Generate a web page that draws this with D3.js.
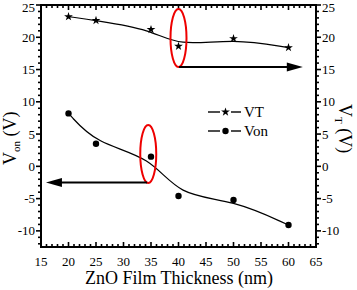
<!DOCTYPE html>
<html><head><meta charset="utf-8">
<script src="https://cdn.jsdelivr.net/npm/d3@7"></script>
<style>body{margin:0;background:#fff;font-family:'Liberation Serif',serif}svg{display:block}</style>
</head><body><svg id="c" width="357" height="290"></svg>
<script>
const thickness = [20, 25, 35, 40, 50, 60];
const vt = [23.2, 22.6, 21.2, 18.6, 19.8, 18.4];
const von = [8.2, 3.5, 1.5, -4.6, -5.2, -9.1];
const xTicks = [15, 20, 25, 30, 35, 40, 45, 50, 55, 60, 65];
const yTicks = [-10, -5, 0, 5, 10, 15, 20, 25];
const legendLabels = ["VT", "Von"];
// annotations in data coordinates
const ellipses = [{cx: 40, cy: 19.9}, {cx: 34.5, cy: 1.9}];
const arrows = [{x1: 40.1, x2: 62.6, y: 15.4}, {x1: 34.3, x2: 15.9, y: -2.5}];

const FONT = "Liberation Serif";
const svg = d3.select("#c");
const L = 41, R = 316, T = 5, B = 247;
const x = d3.scaleLinear().domain([15, 65]).range([L, R]);
const y = d3.scaleLinear().domain([-12.5, 25]).range([B, T]);
function txt(parent) { return parent.append("text").style("font-family", FONT).attr("fill", "#000"); }

const minorX = d3.range(15, 65.01, 1), minorY = d3.range(-12, 25.01, 1);
const g = svg.append("g");
function ticks(vals, major, side) {
  vals.forEach(v => {
    const isMaj = major.includes(v);
    const len = isMaj ? 5 : 3;
    let l;
    if (side === "bottom") l = [x(v), B, x(v), B - len];
    if (side === "top") l = [x(v), T, x(v), T + len];
    if (side === "left") l = [L, y(v), L - len, y(v)];
    if (side === "right") l = [R, y(v), R + len, y(v)];
    g.append("line").attr("x1", l[0]).attr("y1", l[1]).attr("x2", l[2]).attr("y2", l[3])
      .attr("stroke", "#000").attr("stroke-width", 1.6);
  });
}
ticks(minorX, xTicks, "bottom");
ticks(minorX, xTicks, "top");
ticks(minorY, yTicks, "left");
ticks(minorY, yTicks, "right");
g.append("rect").attr("x", L).attr("y", T).attr("width", R - L).attr("height", B - T)
  .attr("fill", "none").attr("stroke", "#000").attr("stroke-width", 2);

xTicks.forEach(v => txt(g).attr("x", x(v)).attr("y", B + 18.5).attr("text-anchor", "middle")
  .attr("font-size", 13).text(v));
yTicks.forEach(v => {
  const yy = Math.max(y(v) + 4.5, 11.5);
  txt(g).attr("x", L - 6).attr("y", yy).attr("text-anchor", "end").attr("font-size", 13).text(v);
  txt(g).attr("x", R + 6).attr("y", yy).attr("text-anchor", "start").attr("font-size", 13).text(v);
});

txt(svg).attr("x", 179).attr("y", 284).attr("text-anchor", "middle").attr("font-size", 18)
  .text("ZnO Film Thickness (nm)");
const lt = txt(svg).attr("transform", "translate(16,165) rotate(-90)").attr("text-anchor", "start").attr("font-size", 18);
lt.append("tspan").text("V");
lt.append("tspan").attr("font-size", 11).attr("dy", 4).text("on");
lt.append("tspan").attr("dy", -4).text(" (V)");
const rt = txt(svg).attr("transform", "translate(339,104) rotate(90)").attr("text-anchor", "start").attr("font-size", 18);
rt.append("tspan").text("V");
rt.append("tspan").attr("font-size", 11).attr("dy", 4).text("T");
rt.append("tspan").attr("dy", -4).text(" (V)");

const line = d3.line().x(d => x(d[0])).y(d => y(d[1])).curve(d3.curveBasis);
[vt, von].forEach(s => {
  svg.append("path").attr("d", line(thickness.map((t, i) => [t, s[i]])))
    .attr("fill", "none").attr("stroke", "#000").attr("stroke-width", 1.2);
});
const star = d3.symbol().type(d3.symbolStar).size(24);
thickness.forEach((t, i) => {
  svg.append("path").attr("d", star()).attr("transform", `translate(${x(t)},${y(vt[i])})`);
  svg.append("circle").attr("cx", x(t)).attr("cy", y(von[i])).attr("r", 3.2);
});

legendLabels.forEach((lab, i) => {
  const ly = 112 + i * 19;
  svg.append("line").attr("x1", 208).attr("x2", 220).attr("y1", ly).attr("y2", ly).attr("stroke", "#000").attr("stroke-width", 1.4);
  svg.append("line").attr("x1", 231).attr("x2", 241).attr("y1", ly).attr("y2", ly).attr("stroke", "#000").attr("stroke-width", 1.4);
  if (i === 0) svg.append("path").attr("d", star()).attr("transform", `translate(225.5,${ly})`);
  else svg.append("circle").attr("cx", 225.5).attr("cy", ly).attr("r", 3.2);
  txt(svg).attr("x", 244).attr("y", ly + 5).attr("font-size", 15).text(lab);
});

ellipses.forEach(e => svg.append("ellipse").attr("cx", x(e.cx)).attr("cy", y(e.cy)).attr("rx", 8).attr("ry", 29)
  .attr("fill", "none").attr("stroke", "#e00").attr("stroke-width", 2));
arrows.forEach(a => {
  const dir = a.x2 > a.x1 ? 1 : -1;
  const xe = x(a.x2), ys = y(a.y);
  svg.append("line").attr("x1", x(a.x1)).attr("x2", xe - dir * 12).attr("y1", ys).attr("y2", ys)
    .attr("stroke", "#000").attr("stroke-width", 2);
  svg.append("path").attr("d", `M${xe},${ys}L${xe - dir * 16},${ys - 4.5}L${xe - dir * 16},${ys + 4.5}Z`).attr("fill", "#000");
});
</script></body></html>
